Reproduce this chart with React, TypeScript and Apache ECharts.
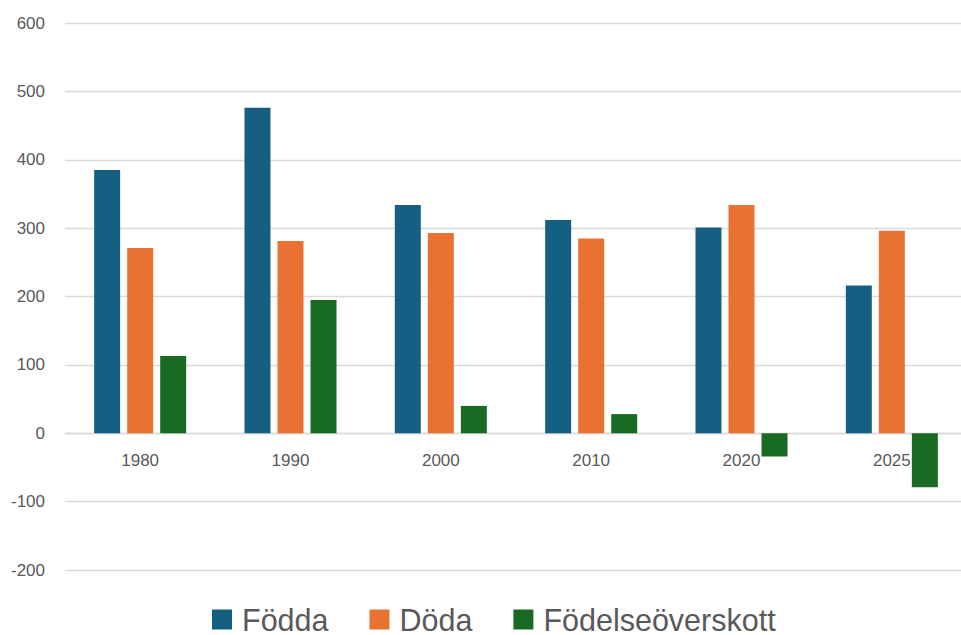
import React, { useEffect, useRef } from "react";
import * as echarts from "echarts";

const categories = ["1980", "1990", "2000", "2010", "2020", "2025"];
const fodda = [385, 476, 334, 312, 301, 216];
const doda = [271, 281, 293, 285, 334, 296];
const overskott = [113, 195, 40, 28, -34, -79];
const seriesNames = ["Födda", "Döda", "Födelseöverskott"];
const colors = ["#156082", "#E97132", "#196B24"];

export default function App() {
  const ref = useRef<HTMLDivElement>(null);
  useEffect(() => {
    if (!ref.current) return;
    const chart = echarts.init(ref.current, undefined, { renderer: "svg" });
    const font = "'Liberation Sans', Arial, sans-serif";
    chart.setOption({
      animation: false,
      color: colors,
      grid: { left: 65, top: 23, width: 902, height: 547, containLabel: false },
      legend: {
        left: 207,
        top: 599,
        itemWidth: 20,
        itemHeight: 20,
        itemGap: 41,
        icon: "rect",
        textStyle: {
          fontSize: 30.5,
          lineHeight: 24,
          color: "#595959",
          fontFamily: font,
          padding: [0, 0, 0, 5],
        },
        data: seriesNames,
      },
      xAxis: {
        type: "category",
        data: categories,
        offset: -136.5,
        axisLine: { onZero: false, lineStyle: { color: "#d9d9d9", width: 1.3 } },
        axisTick: { show: false },
        axisLabel: { fontSize: 17, color: "#595959", fontFamily: font, margin: 18 },
        z: 1,
      },
      yAxis: {
        type: "value",
        min: -200,
        max: 600,
        interval: 100,
        axisLine: { show: false },
        axisTick: { show: false },
        axisLabel: { fontSize: 17, color: "#595959", fontFamily: font, margin: 20 },
        splitLine: { lineStyle: { color: "#d9d9d9", width: 1.3 } },
      },
      series: [
        { name: seriesNames[0], type: "bar", data: fodda, barWidth: 26, barGap: "27%", z: 3 },
        { name: seriesNames[1], type: "bar", data: doda, barWidth: 26, barGap: "27%", z: 3 },
        { name: seriesNames[2], type: "bar", data: overskott, barWidth: 26, barGap: "27%", z: 3 },
      ],
    });
    return () => chart.dispose();
  }, []);
  return (
    <div style={{ position: "absolute", left: 0, top: 0, width: 961, height: 635, overflow: "hidden" }}>
      <div ref={ref} style={{ width: 990, height: 635 }} />
    </div>
  );
}
